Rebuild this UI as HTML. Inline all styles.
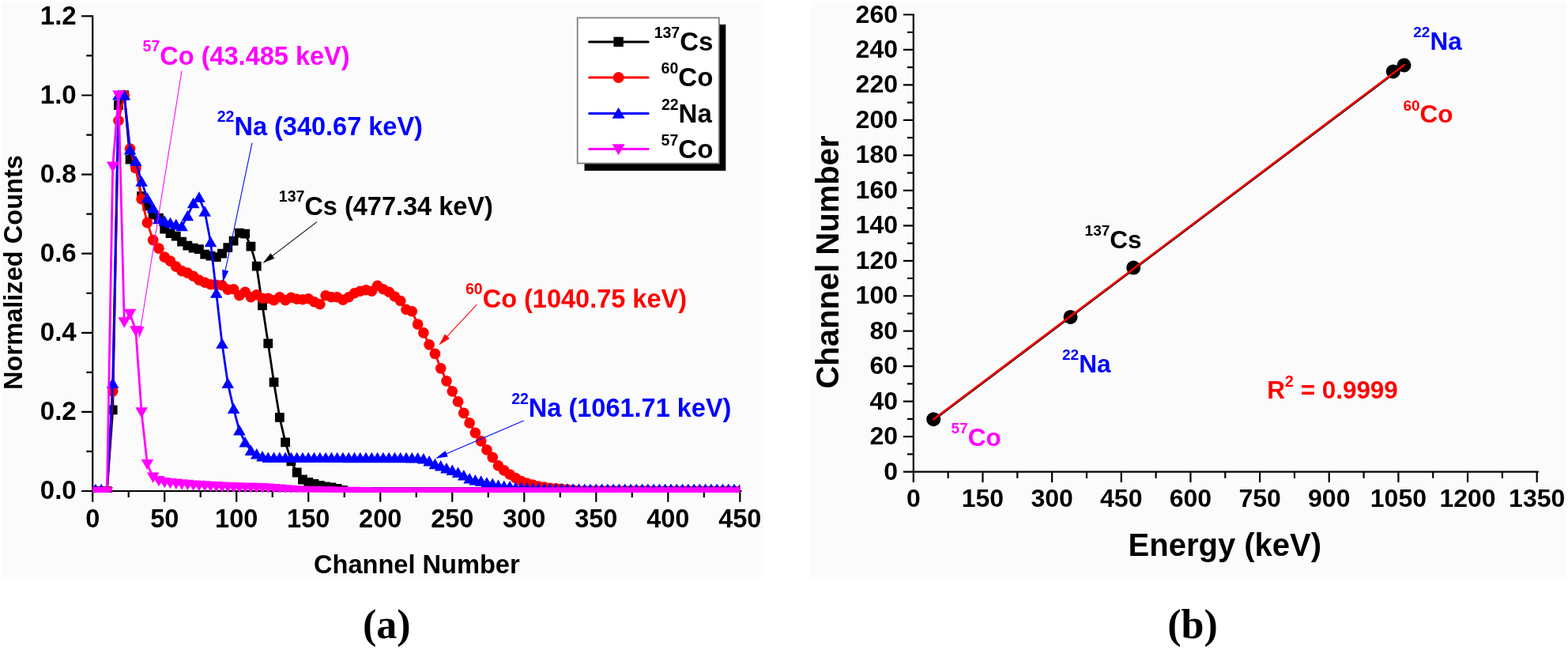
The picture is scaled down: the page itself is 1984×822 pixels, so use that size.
<!DOCTYPE html><html><head><meta charset="utf-8"><title>Figure</title><style>html,body{margin:0;padding:0;background:#fff;}body{width:1984px;height:822px;overflow:hidden;}svg{display:block;}text{font-family:'Liberation Sans', Arial, sans-serif;font-weight:bold;}</style></head><body>
<svg width="1984" height="822" viewBox="0 0 1984 822">
<rect x="0" y="0" width="1984" height="822" fill="#fff"/>
<rect x="2" y="2" width="964" height="728.5" fill="#fbfbfb"/>
<rect x="1026" y="2" width="955.5" height="729.5" fill="#fbfbfb"/>
<defs><clipPath id="lc"><rect x="117.2" y="10" width="819.1" height="612.8"/></clipPath></defs>
<path d="M117.2 20.4V622M116.2 621H937.3M104.2 621H117.2M110.4 570.95H117.2M104.2 520.9H117.2M110.4 470.85H117.2M104.2 420.8H117.2M110.4 370.75H117.2M104.2 320.7H117.2M110.4 270.65H117.2M104.2 220.6H117.2M110.4 170.55H117.2M104.2 120.5H117.2M110.4 70.45H117.2M104.2 20.4H117.2M117.2 621V633.6M162.71 621V628M208.21 621V633.6M253.72 621V628M299.22 621V633.6M344.73 621V628M390.23 621V633.6M435.74 621V628M481.24 621V633.6M526.75 621V628M572.26 621V633.6M617.76 621V628M663.27 621V633.6M708.77 621V628M754.28 621V633.6M799.78 621V628M845.29 621V633.6M890.79 621V628M936.3 621V633.6" stroke="#000" stroke-width="2.2" fill="none" stroke-linecap="square"/>
<text x="96.7" y="631.3" font-size="33" fill="#000" text-anchor="end">0.0</text>
<text x="96.7" y="531.2" font-size="33" fill="#000" text-anchor="end">0.2</text>
<text x="96.7" y="431.1" font-size="33" fill="#000" text-anchor="end">0.4</text>
<text x="96.7" y="331" font-size="33" fill="#000" text-anchor="end">0.6</text>
<text x="96.7" y="230.9" font-size="33" fill="#000" text-anchor="end">0.8</text>
<text x="96.7" y="130.8" font-size="33" fill="#000" text-anchor="end">1.0</text>
<text x="96.7" y="30.7" font-size="33" fill="#000" text-anchor="end">1.2</text>
<text x="117.2" y="667.1" font-size="32.5" fill="#000" text-anchor="middle">0</text>
<text x="208.21" y="667.1" font-size="32.5" fill="#000" text-anchor="middle">50</text>
<text x="299.22" y="667.1" font-size="32.5" fill="#000" text-anchor="middle">100</text>
<text x="390.23" y="667.1" font-size="32.5" fill="#000" text-anchor="middle">150</text>
<text x="481.24" y="667.1" font-size="32.5" fill="#000" text-anchor="middle">200</text>
<text x="572.26" y="667.1" font-size="32.5" fill="#000" text-anchor="middle">250</text>
<text x="663.27" y="667.1" font-size="32.5" fill="#000" text-anchor="middle">300</text>
<text x="754.28" y="667.1" font-size="32.5" fill="#000" text-anchor="middle">350</text>
<text x="845.29" y="667.1" font-size="32.5" fill="#000" text-anchor="middle">400</text>
<text x="936.3" y="667.1" font-size="32.5" fill="#000" text-anchor="middle">450</text>
<text x="28" y="344.5" font-size="32.6" text-anchor="middle" transform="rotate(-90 28 344.5)">Normalized Counts</text>
<text x="527.3" y="724.6" font-size="32.6" fill="#000" text-anchor="middle">Channel Number</text>
<g clip-path="url(#lc)">
<polyline points="120.84,621 128.12,621 135.4,621 142.68,518.4 149.96,133.01 157.24,120.5 164.53,201.58 171.81,211.59 179.09,248.13 186.37,260.64 193.65,271.65 200.93,275.65 208.21,289.67 215.49,295.17 222.77,298.68 230.05,305.68 237.33,310.69 244.62,313.69 251.9,315.19 259.18,321.7 266.46,323.7 273.74,325.2 281.02,320.7 288.3,313.19 295.58,304.68 302.86,294.67 310.14,295.67 317.42,311.69 324.71,336.72 331.99,386.27 339.27,434.31 346.55,483.36 353.83,527.91 361.11,559.44 368.39,583.46 375.67,597.48 382.95,606.49 390.23,609.99 397.51,611.99 404.8,613.99 412.08,615.49 419.36,616.5 426.64,618 433.92,620 441.2,622 448.48,622 455.76,622 463.04,622 470.32,622 477.6,622 484.88,622 492.17,622 499.45,622 506.73,622 514.01,622 521.29,622 528.57,622 535.85,622 543.13,622 550.41,622 557.69,622 564.97,622 572.26,622 579.54,622 586.82,622 594.1,622 601.38,622 608.66,622 615.94,622 623.22,622 630.5,622 637.78,622 645.06,622 652.35,622 659.63,622 666.91,622 674.19,622 681.47,622 688.75,622 696.03,622 703.31,622 710.59,622 717.87,622 725.15,622 732.44,622 739.72,622 747,622 754.28,622 761.56,622 768.84,622 776.12,622 783.4,622 790.68,622 797.96,622 805.24,622 812.52,622 819.81,622 827.09,622 834.37,622 841.65,622 848.93,622 856.21,622 863.49,622 870.77,622 878.05,622 885.33,622 892.61,622 899.9,622 907.18,622 914.46,622 921.74,622 929.02,622 936.3,622" fill="none" stroke="#000" stroke-width="2.8" stroke-linejoin="round"/>
<path fill="#000" d="M114.94 615.1h11.8v11.8h-11.8zM122.22 615.1h11.8v11.8h-11.8zM129.5 615.1h11.8v11.8h-11.8zM136.78 512.5h11.8v11.8h-11.8zM144.06 127.11h11.8v11.8h-11.8zM151.34 114.6h11.8v11.8h-11.8zM158.63 195.68h11.8v11.8h-11.8zM165.91 205.69h11.8v11.8h-11.8zM173.19 242.23h11.8v11.8h-11.8zM180.47 254.74h11.8v11.8h-11.8zM187.75 265.75h11.8v11.8h-11.8zM195.03 269.75h11.8v11.8h-11.8zM202.31 283.77h11.8v11.8h-11.8zM209.59 289.27h11.8v11.8h-11.8zM216.87 292.78h11.8v11.8h-11.8zM224.15 299.78h11.8v11.8h-11.8zM231.43 304.79h11.8v11.8h-11.8zM238.72 307.79h11.8v11.8h-11.8zM246 309.29h11.8v11.8h-11.8zM253.28 315.8h11.8v11.8h-11.8zM260.56 317.8h11.8v11.8h-11.8zM267.84 319.3h11.8v11.8h-11.8zM275.12 314.8h11.8v11.8h-11.8zM282.4 307.29h11.8v11.8h-11.8zM289.68 298.78h11.8v11.8h-11.8zM296.96 288.77h11.8v11.8h-11.8zM304.24 289.77h11.8v11.8h-11.8zM311.52 305.79h11.8v11.8h-11.8zM318.81 330.82h11.8v11.8h-11.8zM326.09 380.37h11.8v11.8h-11.8zM333.37 428.41h11.8v11.8h-11.8zM340.65 477.46h11.8v11.8h-11.8zM347.93 522.01h11.8v11.8h-11.8zM355.21 553.54h11.8v11.8h-11.8zM362.49 577.56h11.8v11.8h-11.8zM369.77 591.58h11.8v11.8h-11.8zM377.05 600.59h11.8v11.8h-11.8zM384.33 604.09h11.8v11.8h-11.8zM391.61 606.09h11.8v11.8h-11.8zM398.9 608.09h11.8v11.8h-11.8zM406.18 609.59h11.8v11.8h-11.8zM413.46 610.6h11.8v11.8h-11.8zM420.74 612.1h11.8v11.8h-11.8zM428.02 614.1h11.8v11.8h-11.8zM435.3 616.1h11.8v11.8h-11.8zM442.58 616.1h11.8v11.8h-11.8zM449.86 616.1h11.8v11.8h-11.8zM457.14 616.1h11.8v11.8h-11.8zM464.42 616.1h11.8v11.8h-11.8zM471.7 616.1h11.8v11.8h-11.8zM478.98 616.1h11.8v11.8h-11.8zM486.27 616.1h11.8v11.8h-11.8zM493.55 616.1h11.8v11.8h-11.8zM500.83 616.1h11.8v11.8h-11.8zM508.11 616.1h11.8v11.8h-11.8zM515.39 616.1h11.8v11.8h-11.8zM522.67 616.1h11.8v11.8h-11.8zM529.95 616.1h11.8v11.8h-11.8zM537.23 616.1h11.8v11.8h-11.8zM544.51 616.1h11.8v11.8h-11.8zM551.79 616.1h11.8v11.8h-11.8zM559.07 616.1h11.8v11.8h-11.8zM566.36 616.1h11.8v11.8h-11.8zM573.64 616.1h11.8v11.8h-11.8zM580.92 616.1h11.8v11.8h-11.8zM588.2 616.1h11.8v11.8h-11.8zM595.48 616.1h11.8v11.8h-11.8zM602.76 616.1h11.8v11.8h-11.8zM610.04 616.1h11.8v11.8h-11.8zM617.32 616.1h11.8v11.8h-11.8zM624.6 616.1h11.8v11.8h-11.8zM631.88 616.1h11.8v11.8h-11.8zM639.16 616.1h11.8v11.8h-11.8zM646.45 616.1h11.8v11.8h-11.8zM653.73 616.1h11.8v11.8h-11.8zM661.01 616.1h11.8v11.8h-11.8zM668.29 616.1h11.8v11.8h-11.8zM675.57 616.1h11.8v11.8h-11.8zM682.85 616.1h11.8v11.8h-11.8zM690.13 616.1h11.8v11.8h-11.8zM697.41 616.1h11.8v11.8h-11.8zM704.69 616.1h11.8v11.8h-11.8zM711.97 616.1h11.8v11.8h-11.8zM719.25 616.1h11.8v11.8h-11.8zM726.54 616.1h11.8v11.8h-11.8zM733.82 616.1h11.8v11.8h-11.8zM741.1 616.1h11.8v11.8h-11.8zM748.38 616.1h11.8v11.8h-11.8zM755.66 616.1h11.8v11.8h-11.8zM762.94 616.1h11.8v11.8h-11.8zM770.22 616.1h11.8v11.8h-11.8zM777.5 616.1h11.8v11.8h-11.8zM784.78 616.1h11.8v11.8h-11.8zM792.06 616.1h11.8v11.8h-11.8zM799.34 616.1h11.8v11.8h-11.8zM806.62 616.1h11.8v11.8h-11.8zM813.91 616.1h11.8v11.8h-11.8zM821.19 616.1h11.8v11.8h-11.8zM828.47 616.1h11.8v11.8h-11.8zM835.75 616.1h11.8v11.8h-11.8zM843.03 616.1h11.8v11.8h-11.8zM850.31 616.1h11.8v11.8h-11.8zM857.59 616.1h11.8v11.8h-11.8zM864.87 616.1h11.8v11.8h-11.8zM872.15 616.1h11.8v11.8h-11.8zM879.43 616.1h11.8v11.8h-11.8zM886.71 616.1h11.8v11.8h-11.8zM894 616.1h11.8v11.8h-11.8zM901.28 616.1h11.8v11.8h-11.8zM908.56 616.1h11.8v11.8h-11.8zM915.84 616.1h11.8v11.8h-11.8zM923.12 616.1h11.8v11.8h-11.8zM930.4 616.1h11.8v11.8h-11.8z"/>
<polyline points="120.84,621 128.12,621 135.4,621 142.68,494.87 149.96,152.53 157.24,120.5 164.53,188.07 171.81,212.59 179.09,251.63 186.37,281.66 193.65,303.68 200.93,314.19 208.21,325.2 215.49,330.21 222.77,337.22 230.05,342.72 237.33,345.22 244.62,349.23 251.9,354.23 259.18,357.24 266.46,359.74 273.74,360.24 281.02,360.74 288.3,366.25 295.58,365.75 302.86,373.75 310.14,369.25 317.42,375.75 324.71,372.75 331.99,377.26 339.27,377.26 346.55,379.76 353.83,375.75 361.11,379.76 368.39,376.26 375.67,378.26 382.95,378.76 390.23,377.76 397.51,381.76 404.8,384.76 412.08,373.75 419.36,375.75 426.64,375.75 433.92,379.26 441.2,375.75 448.48,370.75 455.76,368.25 463.04,366.75 470.32,368.25 477.6,361.24 484.88,365.75 492.17,369.25 499.45,375 506.73,380.51 514.01,391.47 521.29,393.77 528.57,410.09 535.85,420.8 543.13,435.81 550.41,447.33 557.69,465.84 564.97,481.86 572.26,494.87 579.54,507.89 586.82,522.4 594.1,534.91 601.38,547.43 608.66,557.94 615.94,568.95 623.22,578.46 630.5,588.97 637.78,594.97 645.06,599.98 652.35,604.48 659.63,608.49 666.91,610.99 674.19,612.99 681.47,614.99 688.75,616 696.03,617.25 703.31,617.85 710.59,618.45 717.87,619.1 725.15,619.8 732.44,620.5 739.72,620.52 747,620.54 754.28,620.55 761.56,620.57 768.84,620.59 776.12,620.61 783.4,620.62 790.68,620.64 797.96,620.66 805.24,620.68 812.52,620.7 819.81,620.71 827.09,620.73 834.37,620.75 841.65,620.77 848.93,620.79 856.21,620.8 863.49,620.82 870.77,620.84 878.05,620.86 885.33,620.87 892.61,620.89 899.9,620.91 907.18,620.93 914.46,620.95 921.74,620.96 929.02,620.98 936.3,621" fill="none" stroke="#f00" stroke-width="2.8" stroke-linejoin="round"/>
<g fill="#f00"><circle cx="120.84" cy="621" r="6.85"/><circle cx="128.12" cy="621" r="6.85"/><circle cx="135.4" cy="621" r="6.85"/><circle cx="142.68" cy="494.87" r="6.85"/><circle cx="149.96" cy="152.53" r="6.85"/><circle cx="157.24" cy="120.5" r="6.85"/><circle cx="164.53" cy="188.07" r="6.85"/><circle cx="171.81" cy="212.59" r="6.85"/><circle cx="179.09" cy="251.63" r="6.85"/><circle cx="186.37" cy="281.66" r="6.85"/><circle cx="193.65" cy="303.68" r="6.85"/><circle cx="200.93" cy="314.19" r="6.85"/><circle cx="208.21" cy="325.2" r="6.85"/><circle cx="215.49" cy="330.21" r="6.85"/><circle cx="222.77" cy="337.22" r="6.85"/><circle cx="230.05" cy="342.72" r="6.85"/><circle cx="237.33" cy="345.22" r="6.85"/><circle cx="244.62" cy="349.23" r="6.85"/><circle cx="251.9" cy="354.23" r="6.85"/><circle cx="259.18" cy="357.24" r="6.85"/><circle cx="266.46" cy="359.74" r="6.85"/><circle cx="273.74" cy="360.24" r="6.85"/><circle cx="281.02" cy="360.74" r="6.85"/><circle cx="288.3" cy="366.25" r="6.85"/><circle cx="295.58" cy="365.75" r="6.85"/><circle cx="302.86" cy="373.75" r="6.85"/><circle cx="310.14" cy="369.25" r="6.85"/><circle cx="317.42" cy="375.75" r="6.85"/><circle cx="324.71" cy="372.75" r="6.85"/><circle cx="331.99" cy="377.26" r="6.85"/><circle cx="339.27" cy="377.26" r="6.85"/><circle cx="346.55" cy="379.76" r="6.85"/><circle cx="353.83" cy="375.75" r="6.85"/><circle cx="361.11" cy="379.76" r="6.85"/><circle cx="368.39" cy="376.26" r="6.85"/><circle cx="375.67" cy="378.26" r="6.85"/><circle cx="382.95" cy="378.76" r="6.85"/><circle cx="390.23" cy="377.76" r="6.85"/><circle cx="397.51" cy="381.76" r="6.85"/><circle cx="404.8" cy="384.76" r="6.85"/><circle cx="412.08" cy="373.75" r="6.85"/><circle cx="419.36" cy="375.75" r="6.85"/><circle cx="426.64" cy="375.75" r="6.85"/><circle cx="433.92" cy="379.26" r="6.85"/><circle cx="441.2" cy="375.75" r="6.85"/><circle cx="448.48" cy="370.75" r="6.85"/><circle cx="455.76" cy="368.25" r="6.85"/><circle cx="463.04" cy="366.75" r="6.85"/><circle cx="470.32" cy="368.25" r="6.85"/><circle cx="477.6" cy="361.24" r="6.85"/><circle cx="484.88" cy="365.75" r="6.85"/><circle cx="492.17" cy="369.25" r="6.85"/><circle cx="499.45" cy="375" r="6.85"/><circle cx="506.73" cy="380.51" r="6.85"/><circle cx="514.01" cy="391.47" r="6.85"/><circle cx="521.29" cy="393.77" r="6.85"/><circle cx="528.57" cy="410.09" r="6.85"/><circle cx="535.85" cy="420.8" r="6.85"/><circle cx="543.13" cy="435.81" r="6.85"/><circle cx="550.41" cy="447.33" r="6.85"/><circle cx="557.69" cy="465.84" r="6.85"/><circle cx="564.97" cy="481.86" r="6.85"/><circle cx="572.26" cy="494.87" r="6.85"/><circle cx="579.54" cy="507.89" r="6.85"/><circle cx="586.82" cy="522.4" r="6.85"/><circle cx="594.1" cy="534.91" r="6.85"/><circle cx="601.38" cy="547.43" r="6.85"/><circle cx="608.66" cy="557.94" r="6.85"/><circle cx="615.94" cy="568.95" r="6.85"/><circle cx="623.22" cy="578.46" r="6.85"/><circle cx="630.5" cy="588.97" r="6.85"/><circle cx="637.78" cy="594.97" r="6.85"/><circle cx="645.06" cy="599.98" r="6.85"/><circle cx="652.35" cy="604.48" r="6.85"/><circle cx="659.63" cy="608.49" r="6.85"/><circle cx="666.91" cy="610.99" r="6.85"/><circle cx="674.19" cy="612.99" r="6.85"/><circle cx="681.47" cy="614.99" r="6.85"/><circle cx="688.75" cy="616" r="6.85"/><circle cx="696.03" cy="617.25" r="6.85"/><circle cx="703.31" cy="617.85" r="6.85"/><circle cx="710.59" cy="618.45" r="6.85"/><circle cx="717.87" cy="619.1" r="6.85"/><circle cx="725.15" cy="619.8" r="6.85"/><circle cx="732.44" cy="620.5" r="6.85"/><circle cx="739.72" cy="620.52" r="6.85"/><circle cx="747" cy="620.54" r="6.85"/><circle cx="754.28" cy="620.55" r="6.85"/><circle cx="761.56" cy="620.57" r="6.85"/><circle cx="768.84" cy="620.59" r="6.85"/><circle cx="776.12" cy="620.61" r="6.85"/><circle cx="783.4" cy="620.62" r="6.85"/><circle cx="790.68" cy="620.64" r="6.85"/><circle cx="797.96" cy="620.66" r="6.85"/><circle cx="805.24" cy="620.68" r="6.85"/><circle cx="812.52" cy="620.7" r="6.85"/><circle cx="819.81" cy="620.71" r="6.85"/><circle cx="827.09" cy="620.73" r="6.85"/><circle cx="834.37" cy="620.75" r="6.85"/><circle cx="841.65" cy="620.77" r="6.85"/><circle cx="848.93" cy="620.79" r="6.85"/><circle cx="856.21" cy="620.8" r="6.85"/><circle cx="863.49" cy="620.82" r="6.85"/><circle cx="870.77" cy="620.84" r="6.85"/><circle cx="878.05" cy="620.86" r="6.85"/><circle cx="885.33" cy="620.87" r="6.85"/><circle cx="892.61" cy="620.89" r="6.85"/><circle cx="899.9" cy="620.91" r="6.85"/><circle cx="907.18" cy="620.93" r="6.85"/><circle cx="914.46" cy="620.95" r="6.85"/><circle cx="921.74" cy="620.96" r="6.85"/><circle cx="929.02" cy="620.98" r="6.85"/><circle cx="936.3" cy="621" r="6.85"/></g>
<polyline points="120.84,619 128.12,619 135.4,620 142.68,484.86 149.96,120.5 157.24,120.5 164.53,189.57 171.81,204.08 179.09,229.61 186.37,250.63 193.65,263.14 200.93,277.16 208.21,279.66 215.49,282.16 222.77,284.16 230.05,286.17 237.33,273.15 244.62,257.14 251.9,249.63 259.18,267.65 266.46,306.19 273.74,370.75 281.02,434.81 288.3,484.86 295.58,516.9 302.86,544.42 310.14,559.44 317.42,569.95 324.71,574.45 331.99,577.46 339.27,578.96 346.55,578.97 353.83,578.98 361.11,578.99 368.39,579 375.67,579.01 382.95,579.02 390.23,579.03 397.51,579.04 404.8,579.05 412.08,579.06 419.36,579.07 426.64,579.08 433.92,579.09 441.2,579.1 448.48,579.11 455.76,579.12 463.04,579.14 470.32,579.15 477.6,579.16 484.88,579.17 492.17,579.18 499.45,579.19 506.73,579.2 514.01,579.21 521.29,579.46 528.57,579.46 535.85,580.46 543.13,583.46 550.41,587.22 557.69,589.47 564.97,592.47 572.26,594.97 579.54,597.98 586.82,601.48 594.1,605.48 601.38,607.49 608.66,608.74 615.94,610.74 623.22,611.99 630.5,613.99 637.78,614.99 645.06,615.49 652.35,616.5 659.63,617 666.91,617.5 674.19,617.75 681.47,618 688.75,618.2 696.03,618.4 703.31,618.52 710.59,618.57 717.87,618.62 725.15,618.67 732.44,618.72 739.72,618.75 747,618.76 754.28,618.77 761.56,618.78 768.84,618.79 776.12,618.8 783.4,618.81 790.68,618.82 797.96,618.83 805.24,618.83 812.52,618.84 819.81,618.85 827.09,618.86 834.37,618.87 841.65,618.88 848.93,618.89 856.21,618.9 863.49,618.91 870.77,618.92 878.05,618.93 885.33,618.93 892.61,618.94 899.9,618.95 907.18,618.96 914.46,618.97 921.74,618.98 929.02,618.99 936.3,619" fill="none" stroke="#00f" stroke-width="2.8" stroke-linejoin="round"/>
<path fill="#00f" d="M120.84 611.63L128.64 625.03L113.04 625.03zM128.12 611.63L135.92 625.03L120.32 625.03zM135.4 612.63L143.2 626.03L127.6 626.03zM142.68 477.49L150.48 490.89L134.88 490.89zM149.96 113.13L157.76 126.53L142.16 126.53zM157.24 113.13L165.04 126.53L149.44 126.53zM164.53 182.2L172.33 195.6L156.73 195.6zM171.81 196.71L179.61 210.11L164.01 210.11zM179.09 222.24L186.89 235.64L171.29 235.64zM186.37 243.26L194.17 256.66L178.57 256.66zM193.65 255.77L201.45 269.17L185.85 269.17zM200.93 269.79L208.73 283.19L193.13 283.19zM208.21 272.29L216.01 285.69L200.41 285.69zM215.49 274.79L223.29 288.19L207.69 288.19zM222.77 276.79L230.57 290.19L214.97 290.19zM230.05 278.8L237.85 292.2L222.25 292.2zM237.33 265.78L245.13 279.18L229.53 279.18zM244.62 249.77L252.42 263.17L236.82 263.17zM251.9 242.26L259.7 255.66L244.1 255.66zM259.18 260.28L266.98 273.68L251.38 273.68zM266.46 298.82L274.26 312.22L258.66 312.22zM273.74 363.38L281.54 376.78L265.94 376.78zM281.02 427.44L288.82 440.84L273.22 440.84zM288.3 477.49L296.1 490.89L280.5 490.89zM295.58 509.53L303.38 522.93L287.78 522.93zM302.86 537.05L310.66 550.45L295.06 550.45zM310.14 552.07L317.94 565.47L302.34 565.47zM317.42 562.58L325.22 575.98L309.62 575.98zM324.71 567.08L332.51 580.48L316.91 580.48zM331.99 570.09L339.79 583.49L324.19 583.49zM339.27 571.59L347.07 584.99L331.47 584.99zM346.55 571.6L354.35 585L338.75 585zM353.83 571.61L361.63 585.01L346.03 585.01zM361.11 571.62L368.91 585.02L353.31 585.02zM368.39 571.63L376.19 585.03L360.59 585.03zM375.67 571.64L383.47 585.04L367.87 585.04zM382.95 571.65L390.75 585.05L375.15 585.05zM390.23 571.66L398.03 585.06L382.43 585.06zM397.51 571.67L405.31 585.07L389.71 585.07zM404.8 571.68L412.6 585.08L397 585.08zM412.08 571.69L419.88 585.09L404.28 585.09zM419.36 571.7L427.16 585.1L411.56 585.1zM426.64 571.71L434.44 585.11L418.84 585.11zM433.92 571.72L441.72 585.12L426.12 585.12zM441.2 571.73L449 585.13L433.4 585.13zM448.48 571.74L456.28 585.14L440.68 585.14zM455.76 571.75L463.56 585.15L447.96 585.15zM463.04 571.77L470.84 585.17L455.24 585.17zM470.32 571.78L478.12 585.18L462.52 585.18zM477.6 571.79L485.4 585.19L469.8 585.19zM484.88 571.8L492.68 585.2L477.08 585.2zM492.17 571.81L499.97 585.21L484.37 585.21zM499.45 571.82L507.25 585.22L491.65 585.22zM506.73 571.83L514.53 585.23L498.93 585.23zM514.01 571.84L521.81 585.24L506.21 585.24zM521.29 572.09L529.09 585.49L513.49 585.49zM528.57 572.09L536.37 585.49L520.77 585.49zM535.85 573.09L543.65 586.49L528.05 586.49zM543.13 576.09L550.93 589.49L535.33 589.49zM550.41 579.85L558.21 593.25L542.61 593.25zM557.69 582.1L565.49 595.5L549.89 595.5zM564.97 585.1L572.77 598.5L557.17 598.5zM572.26 587.6L580.06 601L564.46 601zM579.54 590.61L587.34 604.01L571.74 604.01zM586.82 594.11L594.62 607.51L579.02 607.51zM594.1 598.11L601.9 611.51L586.3 611.51zM601.38 600.12L609.18 613.52L593.58 613.52zM608.66 601.37L616.46 614.77L600.86 614.77zM615.94 603.37L623.74 616.77L608.14 616.77zM623.22 604.62L631.02 618.02L615.42 618.02zM630.5 606.62L638.3 620.02L622.7 620.02zM637.78 607.62L645.58 621.02L629.98 621.02zM645.06 608.12L652.86 621.52L637.26 621.52zM652.35 609.13L660.15 622.53L644.55 622.53zM659.63 609.63L667.43 623.03L651.83 623.03zM666.91 610.13L674.71 623.53L659.11 623.53zM674.19 610.38L681.99 623.78L666.39 623.78zM681.47 610.63L689.27 624.03L673.67 624.03zM688.75 610.83L696.55 624.23L680.95 624.23zM696.03 611.03L703.83 624.43L688.23 624.43zM703.31 611.15L711.11 624.55L695.51 624.55zM710.59 611.2L718.39 624.6L702.79 624.6zM717.87 611.25L725.67 624.65L710.07 624.65zM725.15 611.3L732.95 624.7L717.35 624.7zM732.44 611.35L740.24 624.75L724.64 624.75zM739.72 611.38L747.52 624.78L731.92 624.78zM747 611.39L754.8 624.79L739.2 624.79zM754.28 611.4L762.08 624.8L746.48 624.8zM761.56 611.41L769.36 624.81L753.76 624.81zM768.84 611.42L776.64 624.82L761.04 624.82zM776.12 611.43L783.92 624.83L768.32 624.83zM783.4 611.44L791.2 624.84L775.6 624.84zM790.68 611.45L798.48 624.85L782.88 624.85zM797.96 611.46L805.76 624.86L790.16 624.86zM805.24 611.46L813.04 624.86L797.44 624.86zM812.52 611.47L820.32 624.87L804.72 624.87zM819.81 611.48L827.61 624.88L812.01 624.88zM827.09 611.49L834.89 624.89L819.29 624.89zM834.37 611.5L842.17 624.9L826.57 624.9zM841.65 611.51L849.45 624.91L833.85 624.91zM848.93 611.52L856.73 624.92L841.13 624.92zM856.21 611.53L864.01 624.93L848.41 624.93zM863.49 611.54L871.29 624.94L855.69 624.94zM870.77 611.55L878.57 624.95L862.97 624.95zM878.05 611.56L885.85 624.96L870.25 624.96zM885.33 611.56L893.13 624.96L877.53 624.96zM892.61 611.57L900.41 624.97L884.81 624.97zM899.9 611.58L907.7 624.98L892.1 624.98zM907.18 611.59L914.98 624.99L899.38 624.99zM914.46 611.6L922.26 625L906.66 625zM921.74 611.61L929.54 625.01L913.94 625.01zM929.02 611.62L936.82 625.02L921.22 625.02zM936.3 611.63L944.1 625.03L928.5 625.03z"/>
<polyline points="120.84,622 128.12,622 135.4,622 142.68,210.59 149.96,120.5 157.24,407.29 164.53,396.78 171.81,418.3 179.09,521.4 186.37,586.97 193.65,603.48 200.93,607.99 208.21,609.99 215.49,610.79 222.77,611.59 230.05,612.29 237.33,612.89 244.62,613.49 251.9,613.89 259.18,614.29 266.46,614.69 273.74,615.09 281.02,615.49 288.3,615.79 295.58,616.1 302.86,616.31 310.14,616.44 317.42,616.57 324.71,616.7 331.99,616.94 339.27,617.51 346.55,618.08 353.83,618.65 361.11,619.22 368.39,619.79 375.67,620.36 382.95,620.6 390.23,620.74 397.51,620.88 404.8,621.01 412.08,621.15 419.36,621.29 426.64,621.43 433.92,621.56 441.2,621.7 448.48,621.84 455.76,621.98 463.04,622.11 470.32,622.25 477.6,622.25 484.88,622.25 492.17,622.25 499.45,622.25 506.73,622.25 514.01,622.25 521.29,622.25 528.57,622.25 535.85,622.25 543.13,622.25 550.41,622.25 557.69,622.25 564.97,622.25 572.26,622.25 579.54,622.25 586.82,622.25 594.1,622.25 601.38,622.25 608.66,622.25 615.94,622.25 623.22,622.25 630.5,622.25 637.78,622.25 645.06,622.25 652.35,622.25 659.63,622.25 666.91,622.25 674.19,622.25 681.47,622.25 688.75,622.25 696.03,622.25 703.31,622.25 710.59,622.25 717.87,622.25 725.15,622.25 732.44,622.25 739.72,622.25 747,622.25 754.28,622.25 761.56,622.25 768.84,622.25 776.12,622.25 783.4,622.25 790.68,622.25 797.96,622.25 805.24,622.25 812.52,622.25 819.81,622.25 827.09,622.25 834.37,622.25 841.65,622.25 848.93,622.25 856.21,622.25 863.49,622.25 870.77,622.25 878.05,622.25 885.33,622.25 892.61,622.25 899.9,622.25 907.18,622.25 914.46,622.25 921.74,622.25 929.02,622.25 936.3,622.25" fill="none" stroke="#f0f" stroke-width="2.8" stroke-linejoin="round"/>
<path fill="#f0f" d="M120.84 629.37L128.64 615.97L113.04 615.97zM128.12 629.37L135.92 615.97L120.32 615.97zM135.4 629.37L143.2 615.97L127.6 615.97zM142.68 217.96L150.48 204.56L134.88 204.56zM149.96 127.87L157.76 114.47L142.16 114.47zM157.24 414.66L165.04 401.26L149.44 401.26zM164.53 404.15L172.33 390.75L156.73 390.75zM171.81 425.67L179.61 412.27L164.01 412.27zM179.09 528.77L186.89 515.37L171.29 515.37zM186.37 594.34L194.17 580.94L178.57 580.94zM193.65 610.85L201.45 597.45L185.85 597.45zM200.93 615.36L208.73 601.96L193.13 601.96zM208.21 617.36L216.01 603.96L200.41 603.96zM215.49 618.16L223.29 604.76L207.69 604.76zM222.77 618.96L230.57 605.56L214.97 605.56zM230.05 619.66L237.85 606.26L222.25 606.26zM237.33 620.26L245.13 606.86L229.53 606.86zM244.62 620.86L252.42 607.46L236.82 607.46zM251.9 621.26L259.7 607.86L244.1 607.86zM259.18 621.66L266.98 608.26L251.38 608.26zM266.46 622.06L274.26 608.66L258.66 608.66zM273.74 622.46L281.54 609.06L265.94 609.06zM281.02 622.86L288.82 609.46L273.22 609.46zM288.3 623.16L296.1 609.76L280.5 609.76zM295.58 623.47L303.38 610.07L287.78 610.07zM302.86 623.68L310.66 610.28L295.06 610.28zM310.14 623.81L317.94 610.41L302.34 610.41zM317.42 623.94L325.22 610.54L309.62 610.54zM324.71 624.07L332.51 610.67L316.91 610.67zM331.99 624.31L339.79 610.91L324.19 610.91zM339.27 624.88L347.07 611.48L331.47 611.48zM346.55 625.45L354.35 612.05L338.75 612.05zM353.83 626.02L361.63 612.62L346.03 612.62zM361.11 626.59L368.91 613.19L353.31 613.19zM368.39 627.16L376.19 613.76L360.59 613.76zM375.67 627.73L383.47 614.33L367.87 614.33zM382.95 627.97L390.75 614.57L375.15 614.57zM390.23 628.11L398.03 614.71L382.43 614.71zM397.51 628.25L405.31 614.85L389.71 614.85zM404.8 628.38L412.6 614.98L397 614.98zM412.08 628.52L419.88 615.12L404.28 615.12zM419.36 628.66L427.16 615.26L411.56 615.26zM426.64 628.8L434.44 615.4L418.84 615.4zM433.92 628.93L441.72 615.53L426.12 615.53zM441.2 629.07L449 615.67L433.4 615.67zM448.48 629.21L456.28 615.81L440.68 615.81zM455.76 629.35L463.56 615.95L447.96 615.95zM463.04 629.48L470.84 616.08L455.24 616.08zM470.32 629.62L478.12 616.22L462.52 616.22zM477.6 629.62L485.4 616.22L469.8 616.22zM484.88 629.62L492.68 616.22L477.08 616.22zM492.17 629.62L499.97 616.22L484.37 616.22zM499.45 629.62L507.25 616.22L491.65 616.22zM506.73 629.62L514.53 616.22L498.93 616.22zM514.01 629.62L521.81 616.22L506.21 616.22zM521.29 629.62L529.09 616.22L513.49 616.22zM528.57 629.62L536.37 616.22L520.77 616.22zM535.85 629.62L543.65 616.22L528.05 616.22zM543.13 629.62L550.93 616.22L535.33 616.22zM550.41 629.62L558.21 616.22L542.61 616.22zM557.69 629.62L565.49 616.22L549.89 616.22zM564.97 629.62L572.77 616.22L557.17 616.22zM572.26 629.62L580.06 616.22L564.46 616.22zM579.54 629.62L587.34 616.22L571.74 616.22zM586.82 629.62L594.62 616.22L579.02 616.22zM594.1 629.62L601.9 616.22L586.3 616.22zM601.38 629.62L609.18 616.22L593.58 616.22zM608.66 629.62L616.46 616.22L600.86 616.22zM615.94 629.62L623.74 616.22L608.14 616.22zM623.22 629.62L631.02 616.22L615.42 616.22zM630.5 629.62L638.3 616.22L622.7 616.22zM637.78 629.62L645.58 616.22L629.98 616.22zM645.06 629.62L652.86 616.22L637.26 616.22zM652.35 629.62L660.15 616.22L644.55 616.22zM659.63 629.62L667.43 616.22L651.83 616.22zM666.91 629.62L674.71 616.22L659.11 616.22zM674.19 629.62L681.99 616.22L666.39 616.22zM681.47 629.62L689.27 616.22L673.67 616.22zM688.75 629.62L696.55 616.22L680.95 616.22zM696.03 629.62L703.83 616.22L688.23 616.22zM703.31 629.62L711.11 616.22L695.51 616.22zM710.59 629.62L718.39 616.22L702.79 616.22zM717.87 629.62L725.67 616.22L710.07 616.22zM725.15 629.62L732.95 616.22L717.35 616.22zM732.44 629.62L740.24 616.22L724.64 616.22zM739.72 629.62L747.52 616.22L731.92 616.22zM747 629.62L754.8 616.22L739.2 616.22zM754.28 629.62L762.08 616.22L746.48 616.22zM761.56 629.62L769.36 616.22L753.76 616.22zM768.84 629.62L776.64 616.22L761.04 616.22zM776.12 629.62L783.92 616.22L768.32 616.22zM783.4 629.62L791.2 616.22L775.6 616.22zM790.68 629.62L798.48 616.22L782.88 616.22zM797.96 629.62L805.76 616.22L790.16 616.22zM805.24 629.62L813.04 616.22L797.44 616.22zM812.52 629.62L820.32 616.22L804.72 616.22zM819.81 629.62L827.61 616.22L812.01 616.22zM827.09 629.62L834.89 616.22L819.29 616.22zM834.37 629.62L842.17 616.22L826.57 616.22zM841.65 629.62L849.45 616.22L833.85 616.22zM848.93 629.62L856.73 616.22L841.13 616.22zM856.21 629.62L864.01 616.22L848.41 616.22zM863.49 629.62L871.29 616.22L855.69 616.22zM870.77 629.62L878.57 616.22L862.97 616.22zM878.05 629.62L885.85 616.22L870.25 616.22zM885.33 629.62L893.13 616.22L877.53 616.22zM892.61 629.62L900.41 616.22L884.81 616.22zM899.9 629.62L907.7 616.22L892.1 616.22zM907.18 629.62L914.98 616.22L899.38 616.22zM914.46 629.62L922.26 616.22L906.66 616.22zM921.74 629.62L929.54 616.22L913.94 616.22zM929.02 629.62L936.82 616.22L921.22 616.22zM936.3 629.62L944.1 616.22L928.5 616.22z"/>
</g>
<line x1="230" y1="89.4" x2="177.92" y2="414.77" stroke="#f0f" stroke-width="1.05"/><path d="M175.8 428L174.19 412.15L182.28 413.44z" fill="#f0f"/>
<line x1="319" y1="180.7" x2="284.75" y2="343.89" stroke="#00f" stroke-width="1.05"/><path d="M282 357L281.15 341.09L289.18 342.77z" fill="#00f"/>
<line x1="401" y1="280.7" x2="343.26" y2="324.68" stroke="#000" stroke-width="1.05"/><path d="M332.6 332.8L342.37 320.21L347.34 326.73z" fill="#000"/>
<line x1="603.4" y1="385.1" x2="564.55" y2="426.71" stroke="#f00" stroke-width="1.05"/><path d="M555.4 436.5L562.91 422.45L568.91 428.04z" fill="#f00"/>
<line x1="662.6" y1="532" x2="563.32" y2="574.52" stroke="#00f" stroke-width="1.05"/><path d="M551 579.8L563.54 569.97L566.77 577.51z" fill="#00f"/>
<text x="180.58" y="81.6" fill="#f0f"><tspan font-size="19.5" dy="-16.2">57</tspan><tspan font-size="32.5" dy="16.2">Co (43.485 keV)</tspan></text>
<text x="274.74" y="170.5" fill="#00f"><tspan font-size="19.5" dy="-16.2">22</tspan><tspan font-size="32.5" dy="16.2">Na (340.67 keV)</tspan></text>
<text x="352.83" y="271.6" fill="#000"><tspan font-size="19.5" dy="-16.2">137</tspan><tspan font-size="32.5" dy="16.2">Cs (477.34 keV)</tspan></text>
<text x="588.98" y="388.6" fill="#f00"><tspan font-size="19.5" dy="-16.2">60</tspan><tspan font-size="32.5" dy="16.2">Co (1040.75 keV)</tspan></text>
<text x="647.14" y="526.8" fill="#00f"><tspan font-size="19.5" dy="-16.2">22</tspan><tspan font-size="32.5" dy="16.2">Na (1061.71 keV)</tspan></text>
<rect x="739.5" y="31" width="178.8" height="184.9" fill="#000"/>
<rect x="730.7" y="22.5" width="179.1" height="184" fill="#fff" stroke="#808080" stroke-width="1.8"/>
<line x1="745.6" y1="52.9" x2="820.2" y2="52.9" stroke="#000" stroke-width="3" stroke-linecap="round"/>
<path fill="#000" d="M776.4 46.7h12.4v12.4h-12.4z"/>
<text x="827.63" y="63.9" fill="#000"><tspan font-size="19.5" dy="-16">137</tspan><tspan font-size="33" dy="16">Cs</tspan></text>
<line x1="745.6" y1="98.1" x2="820.2" y2="98.1" stroke="#f00" stroke-width="3" stroke-linecap="round"/>
<circle cx="782.6" cy="98.1" r="7" fill="#f00"/>
<text x="836.61" y="109.3" fill="#000"><tspan font-size="19.5" dy="-16">60</tspan><tspan font-size="33" dy="16">Co</tspan></text>
<line x1="745.6" y1="143.4" x2="820.2" y2="143.4" stroke="#00f" stroke-width="3" stroke-linecap="round"/>
<path fill="#00f" d="M782.6 135.7L790.6 149.7L774.6 149.7z"/>
<text x="836.92" y="154.6" fill="#000"><tspan font-size="19.5" dy="-16">22</tspan><tspan font-size="33" dy="16">Na</tspan></text>
<line x1="745.6" y1="188.5" x2="820.2" y2="188.5" stroke="#f0f" stroke-width="3" stroke-linecap="round"/>
<path fill="#f0f" d="M782.6 196.2L790.6 182.2L774.6 182.2z"/>
<text x="836.61" y="199.7" fill="#000"><tspan font-size="19.5" dy="-16">57</tspan><tspan font-size="33" dy="16">Co</tspan></text>
<path d="M1155.8 18.5V597.6M1154.8 596.6H1945.7M1144 596.6H1155.8M1149 574.37H1155.8M1144 552.13H1155.8M1149 529.9H1155.8M1144 507.66H1155.8M1149 485.43H1155.8M1144 463.19H1155.8M1149 440.96H1155.8M1144 418.72H1155.8M1149 396.49H1155.8M1144 374.25H1155.8M1149 352.02H1155.8M1144 329.78H1155.8M1149 307.55H1155.8M1144 285.32H1155.8M1149 263.08H1155.8M1144 240.85H1155.8M1149 218.61H1155.8M1144 196.38H1155.8M1149 174.14H1155.8M1144 151.91H1155.8M1149 129.67H1155.8M1144 107.44H1155.8M1149 85.2H1155.8M1144 62.97H1155.8M1149 40.73H1155.8M1144 18.5H1155.8M1155.8 596.6V609M1199.63 596.6V603.6M1243.46 596.6V609M1287.28 596.6V603.6M1331.11 596.6V609M1374.94 596.6V603.6M1418.77 596.6V609M1462.59 596.6V603.6M1506.42 596.6V609M1550.25 596.6V603.6M1594.08 596.6V609M1637.91 596.6V603.6M1681.73 596.6V609M1725.56 596.6V603.6M1769.39 596.6V609M1813.22 596.6V603.6M1857.04 596.6V609M1900.87 596.6V603.6M1944.7 596.6V609" stroke="#000" stroke-width="2.2" fill="none" stroke-linecap="square"/>
<text x="1136" y="606.6" font-size="32" fill="#000" text-anchor="end">0</text>
<text x="1136" y="562.13" font-size="32" fill="#000" text-anchor="end">20</text>
<text x="1136" y="517.66" font-size="32" fill="#000" text-anchor="end">40</text>
<text x="1136" y="473.19" font-size="32" fill="#000" text-anchor="end">60</text>
<text x="1136" y="428.72" font-size="32" fill="#000" text-anchor="end">80</text>
<text x="1136" y="384.25" font-size="32" fill="#000" text-anchor="end">100</text>
<text x="1136" y="339.78" font-size="32" fill="#000" text-anchor="end">120</text>
<text x="1136" y="295.32" font-size="32" fill="#000" text-anchor="end">140</text>
<text x="1136" y="250.85" font-size="32" fill="#000" text-anchor="end">160</text>
<text x="1136" y="206.38" font-size="32" fill="#000" text-anchor="end">180</text>
<text x="1136" y="161.91" font-size="32" fill="#000" text-anchor="end">200</text>
<text x="1136" y="117.44" font-size="32" fill="#000" text-anchor="end">220</text>
<text x="1136" y="72.97" font-size="32" fill="#000" text-anchor="end">240</text>
<text x="1136" y="28.5" font-size="32" fill="#000" text-anchor="end">260</text>
<text x="1155.8" y="641.2" font-size="32" fill="#000" text-anchor="middle">0</text>
<text x="1243.46" y="641.2" font-size="32" fill="#000" text-anchor="middle">150</text>
<text x="1331.11" y="641.2" font-size="32" fill="#000" text-anchor="middle">300</text>
<text x="1418.77" y="641.2" font-size="32" fill="#000" text-anchor="middle">450</text>
<text x="1506.42" y="641.2" font-size="32" fill="#000" text-anchor="middle">600</text>
<text x="1594.08" y="641.2" font-size="32" fill="#000" text-anchor="middle">750</text>
<text x="1681.73" y="641.2" font-size="32" fill="#000" text-anchor="middle">900</text>
<text x="1769.39" y="641.2" font-size="32" fill="#000" text-anchor="middle">1050</text>
<text x="1857.04" y="641.2" font-size="32" fill="#000" text-anchor="middle">1200</text>
<text x="1944.7" y="641.2" font-size="32" fill="#000" text-anchor="middle">1350</text>
<text x="1060.5" y="331.5" font-size="40" text-anchor="middle" transform="rotate(-90 1060.5 331.5)">Channel Number</text>
<text x="1427.52" y="703.3" font-size="40" fill="#000" text-anchor="start">Energy (keV)</text>
<line x1="1181.2" y1="531.1" x2="1776.9" y2="82.9" stroke="#000" stroke-width="2.6"/>
<g fill="#000"><circle cx="1181.2" cy="530.2" r="9"/><circle cx="1354.5" cy="400.9" r="9"/><circle cx="1434.2" cy="338.6" r="9"/><circle cx="1762.8" cy="90.4" r="9"/><circle cx="1776.5" cy="82.5" r="9"/></g>
<line x1="1181.2" y1="530.2" x2="1776.9" y2="82" stroke="#f00" stroke-width="2.5" stroke-linecap="round"/>
<text x="1203.57" y="563.8" fill="#f0f"><tspan font-size="19" dy="-15.5">57</tspan><tspan font-size="31.5" dy="15.5">Co</tspan></text>
<text x="1344.06" y="470.6" fill="#00f"><tspan font-size="19" dy="-15.5">22</tspan><tspan font-size="31.5" dy="15.5">Na</tspan></text>
<text x="1372.61" y="313.5" fill="#000"><tspan font-size="19" dy="-15.5">137</tspan><tspan font-size="31.5" dy="15.5">Cs</tspan></text>
<text x="1788.26" y="62.8" fill="#00f"><tspan font-size="19" dy="-15.5">22</tspan><tspan font-size="31.5" dy="15.5">Na</tspan></text>
<text x="1775.47" y="155.3" fill="#f00"><tspan font-size="19" dy="-15.5">60</tspan><tspan font-size="31.5" dy="15.5">Co</tspan></text>
<text x="1603.2" y="504.4" fill="#f00" font-size="31.4">R<tspan font-size="20" dy="-15.4">2</tspan><tspan dy="15.4"> = 0.9999</tspan></text>
<text x="489.3" y="807" font-size="52" text-anchor="middle" style="font-family:'Liberation Serif','Times New Roman',serif">(a)</text>
<text x="1509" y="807" font-size="52" text-anchor="middle" style="font-family:'Liberation Serif','Times New Roman',serif">(b)</text>
</svg></body></html>
